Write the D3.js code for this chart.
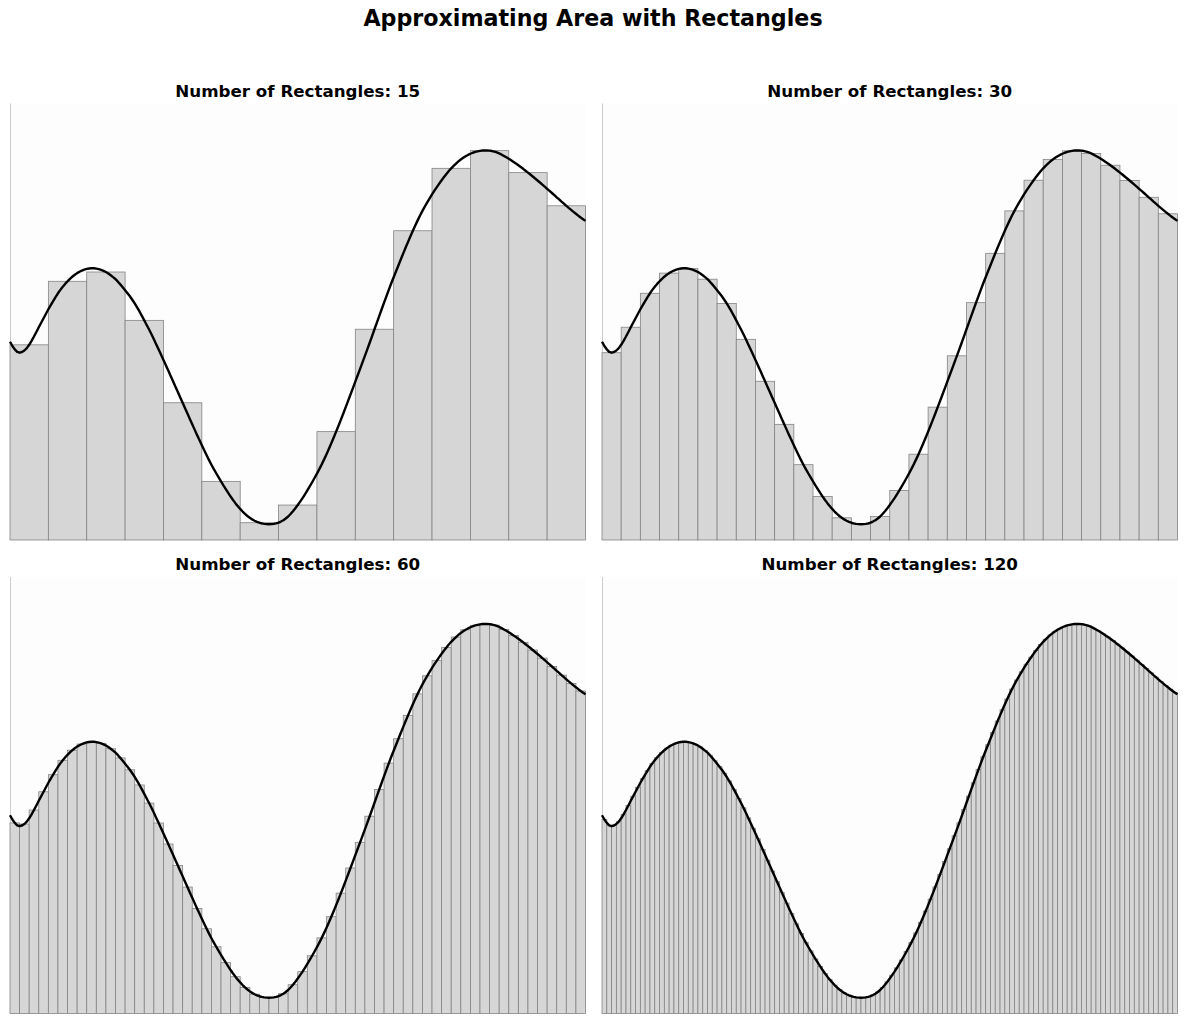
<!DOCTYPE html>
<html>
<head>
<meta charset="utf-8">
<script src="https://cdn.jsdelivr.net/npm/d3@7/dist/d3.min.js"></script>
<style>
    body { margin: 0; background: #ffffff; }
    svg { display: block; font-family: "DejaVu Sans", sans-serif; }
</style>
</head>
<body>
<div id="chart"></div>
<script>
const chartTitle = "Approximating Area with Rectangles";
const rectCounts = [15, 30, 60, 120];
const xRange = [0, 10];
const yRange = [0, 4.37];

// curve, 241 evenly spaced samples over xRange
const curveY = [
    1.985, 1.942, 1.908, 1.884, 1.875, 1.882, 1.897, 1.921, 1.954, 1.994,
    2.037, 2.083, 2.130, 2.175, 2.220, 2.265, 2.310, 2.351, 2.391, 2.431,
    2.470, 2.504, 2.535, 2.564, 2.590, 2.614, 2.636, 2.655, 2.672, 2.686,
    2.698, 2.707, 2.714, 2.718, 2.720, 2.720, 2.717, 2.712, 2.705, 2.695,
    2.683, 2.668, 2.651, 2.632, 2.611, 2.586, 2.559, 2.531, 2.501, 2.471,
    2.440, 2.405, 2.368, 2.329, 2.288, 2.244, 2.199, 2.153, 2.107, 2.059,
    2.009, 1.958, 1.907, 1.855, 1.803, 1.750, 1.697, 1.643, 1.589, 1.535,
    1.481, 1.427, 1.374, 1.320, 1.266, 1.212, 1.158, 1.105, 1.052, 1.000,
    0.948, 0.898, 0.848, 0.800, 0.754, 0.710, 0.668, 0.627, 0.587, 0.547,
    0.509, 0.471, 0.435, 0.401, 0.369, 0.339, 0.311, 0.285, 0.261, 0.240,
    0.222, 0.206, 0.193, 0.182, 0.173, 0.167, 0.162, 0.159, 0.158, 0.159,
    0.162, 0.167, 0.175, 0.185, 0.198, 0.215, 0.235, 0.260, 0.288, 0.318,
    0.350, 0.384, 0.419, 0.457, 0.496, 0.536, 0.578, 0.621, 0.665, 0.710,
    0.757, 0.807, 0.859, 0.913, 0.969, 1.026, 1.085, 1.144, 1.205, 1.267,
    1.330, 1.393, 1.457, 1.521, 1.585, 1.649, 1.714, 1.779, 1.844, 1.909,
    1.975, 2.042, 2.110, 2.177, 2.243, 2.310, 2.376, 2.442, 2.507, 2.570,
    2.631, 2.691, 2.751, 2.811, 2.870, 2.928, 2.985, 3.041, 3.096, 3.149,
    3.200, 3.249, 3.295, 3.339, 3.381, 3.421, 3.460, 3.497, 3.533, 3.568,
    3.602, 3.634, 3.665, 3.694, 3.721, 3.746, 3.769, 3.790, 3.809, 3.826,
    3.842, 3.855, 3.867, 3.877, 3.885, 3.891, 3.896, 3.899, 3.900, 3.900,
    3.898, 3.894, 3.888, 3.880, 3.870, 3.858, 3.845, 3.831, 3.817, 3.801,
    3.785, 3.769, 3.752, 3.734, 3.716, 3.697, 3.678, 3.659, 3.639, 3.619,
    3.599, 3.579, 3.558, 3.537, 3.516, 3.495, 3.474, 3.453, 3.431, 3.410,
    3.388, 3.367, 3.346, 3.325, 3.305, 3.285, 3.266, 3.247, 3.229, 3.212, 3.195
];

class RectPanel {
    constructor(container, config) {
        this.config = config;
        this.g = container.append("g")
            .attr("transform", `translate(${config.left},${config.top})`);
        this.x = d3.scaleLinear().domain(xRange).range([0, config.width]);
        this.y = d3.scaleLinear().domain(yRange).range([config.height, 0]);
        this._drawFrame();
        this._drawRects();
        this._drawCurve();
        this._drawTitle();
    }

    _xAt(k) {
        return xRange[0] + k * (xRange[1] - xRange[0]) / (curveY.length - 1);
    }

    _drawFrame() {
        this.g.append("rect")
            .attr("width", this.config.width).attr("height", this.config.height)
            .style("fill", "#fdfdfd");
        this.g.append("line")
            .attr("x1", 0.5).attr("x2", 0.5)
            .attr("y1", 0).attr("y2", this.config.height)
            .style("stroke", "#cccccc").style("stroke-width", 1);
    }

    _drawRects() {
        let n = this.config.count;
        let step = (curveY.length - 1) / (2 * n);   // midpoint sample index spacing
        let dx = (xRange[1] - xRange[0]) / n;
        let rects = d3.range(n).map(i => ({
            x0: xRange[0] + i * dx,
            x1: xRange[0] + (i + 1) * dx,
            h: curveY[step * (2 * i + 1)]
        }));
        this.g.append("g").selectAll("rect").data(rects).join("rect")
            .attr("x", d => this.x(d.x0))
            .attr("width", d => this.x(d.x1) - this.x(d.x0))
            .attr("y", d => this.y(d.h))
            .attr("height", d => this.y(0) - this.y(d.h))
            .style("fill", "#d6d6d6")
            .style("stroke", "#848484")
            .style("stroke-width", 0.8);
    }

    _drawCurve() {
        let line = d3.line()
            .x((d, k) => this.x(this._xAt(k)))
            .y(d => this.y(d));
        this.g.append("path")
            .datum(curveY)
            .attr("d", line)
            .style("fill", "none")
            .style("stroke", "#000000")
            .style("stroke-width", 2.4)
            .style("stroke-linejoin", "round");
    }

    _drawTitle() {
        this.g.append("text")
            .attr("x", this.config.width / 2).attr("y", -7)
            .attr("text-anchor", "middle")
            .style("font-size", "16.7px").style("font-weight", "bold")
            .text(`Number of Rectangles: ${this.config.count}`);
    }
}

const svg = d3.select("#chart").append("svg")
    .attr("width", 1186).attr("height", 1023);

svg.append("text")
    .attr("x", 593).attr("y", 26)
    .attr("text-anchor", "middle")
    .style("font-size", "22.2px").style("font-weight", "bold")
    .text(chartTitle);

const panelLefts = [10, 602];
const panelTops = [103.5, 577];

rectCounts.forEach((count, i) => {
    new RectPanel(svg, {
        count: count,
        left: panelLefts[i % 2],
        top: panelTops[Math.floor(i / 2)],
        width: 575.5,
        height: 436.5
    });
});
</script>
</body>
</html>
